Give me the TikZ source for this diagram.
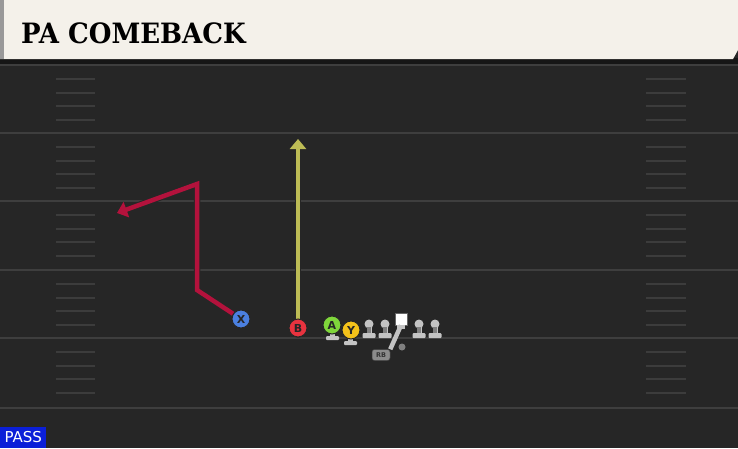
\documentclass[tikz,border=0pt]{standalone}
\usepackage{fontspec}
\setmainfont{DejaVu Sans}
\newfontfamily\titlefont{DejaVu Serif}
\newfontfamily\labfont{DejaVu Sans}
\usetikzlibrary{arrows.meta}
\definecolor{field}{HTML}{262626}
\definecolor{band}{HTML}{161616}
\definecolor{cream}{HTML}{F4F1EA}
\definecolor{majorline}{HTML}{3E3E3E}
\definecolor{hashc}{HTML}{3C3C3C}
\definecolor{crim}{HTML}{B3123C}
\definecolor{olive}{HTML}{BDBC55}
\definecolor{pblue}{HTML}{4B80E0}
\definecolor{pred}{HTML}{E8333F}
\definecolor{pgreen}{HTML}{7FD63B}
\definecolor{pyellow}{HTML}{F4C21A}
\definecolor{lgray}{HTML}{C4C4C4}
\definecolor{passblue}{HTML}{0B1FD8}
\tikzset{
  major/.style={draw=majorline, line width=2.2pt},
  hashm/.style={draw=hashc, line width=2pt},
  player/.style={circle, draw=black!85, line width=1pt, minimum size=18pt, inner sep=0pt, font=\labfont\bfseries\fontsize{11}{11}\selectfont, text=black!85},
  route/.style={line width=4.5pt, line join=miter, -{Triangle[width=16pt,length=10pt]}, preaction={draw=black!85, line width=6.5pt}},
}
\begin{document}
\begin{tikzpicture}[x=1pt,y=-1pt]
\useasboundingbox (0,0) rectangle (738,448);
% field
\fill[field] (0,0) rectangle (738,448);
% header
\fill[band] (0,58) rectangle (738,64);
\fill[cream] (0,0) -- (738,0) -- (738,50) -- (733,59) -- (0,59) -- cycle;
\fill[black!40] (0,0) rectangle (4,59);
\node[anchor=base west, inner sep=0pt] (title) at (21,43) {\titlefont\bfseries\fontsize{28}{28}\selectfont\scalebox{0.93}[1]{PA COMEBACK}};
% field lines
\foreach \y in {65,133,201,270,338,408} {\draw[major] (0,\y) -- (738,\y);}
\foreach \y in {65,133,201,270,338} {
  \foreach \d in {14,28,41,55} {
    \draw[hashm] (56,\y+\d) -- (95,\y+\d);
    \draw[hashm] (646,\y+\d) -- (686,\y+\d);
  }
}
% PASS label
\node[fill=passblue, text=white, anchor=south west, minimum width=46pt, minimum height=21pt, inner sep=0pt, font=\labfont\fontsize{15}{15}\selectfont] (pass) at (0,448) {PASS};
% routes
\coordinate (x1) at (197,290);
\coordinate (x2) at (197,184);
\coordinate (x3) at (117,213);
\coordinate (b1) at (298,139);
\node[player, fill=pblue] (X) at (241,319) {X};
\node[player, fill=pred] (B) at (298,328) {B};
\draw[route, draw=crim] (X) -- (x1) -- (x2) -- (x3);
\draw[route, draw=olive] (B) -- (b1);
\node[player, fill=pred] at (298,328) {B};
\node[player, fill=pblue] at (241,319) {X};
% stands for A and Y
\fill[lgray] (330,331) rectangle (335,337);
\fill[lgray, rounded corners=1pt] (326,336) rectangle (339,340);
\fill[lgray] (348,336) rectangle (353,342);
\fill[lgray, rounded corners=1pt] (344,341) rectangle (357,345);
\node[player, fill=pgreen] (A) at (332,325) {A};
\node[player, fill=pyellow] (Y) at (351,330) {Y};
% linemen
\foreach \n/\xx in {l1/369, l2/385, r1/419, r2/435} {
  \coordinate (\n) at (\xx,324);
  \fill[lgray] (\xx,324) circle (4.5pt);
  \fill[lgray] (\xx-2.5,324) rectangle (\xx+2.5,335);
  \fill[lgray, rounded corners=1pt] (\xx-6.5,333) rectangle (\xx+6.5,338);
  \fill[black!50] (\xx-2,327) rectangle (\xx+2,333);
}
% RB and center
\node[fill=black!45, draw=black!75, line width=0.5pt, rounded corners=2.5pt, minimum width=18pt, minimum height=11pt, inner sep=0pt, font=\labfont\bfseries\fontsize{6.5}{6.5}\selectfont, text=black!80] (RB) at (381,355) {RB};
\node[fill=white, draw=black!60, line width=0.5pt, minimum size=12pt, inner sep=0pt] (C) at (401,319) {};
\fill[lgray] (397,325) rectangle (405,329);
\draw[lgray, line width=4.5pt] (C.south) -- (RB.north east);
\fill[black!50] (402,347) circle (3.5pt);
\end{tikzpicture}
\end{document}
